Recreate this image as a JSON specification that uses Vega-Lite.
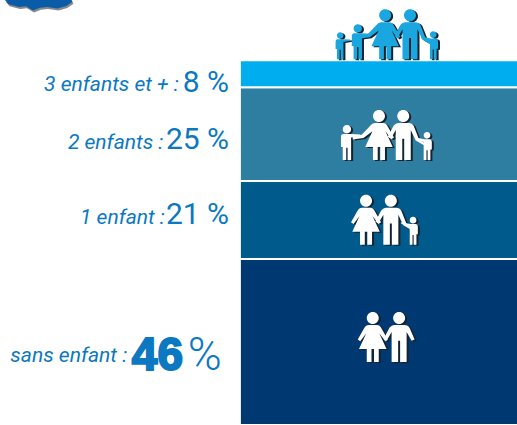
{
"$schema":"https://vega.github.io/schema/vega-lite/v6.json",
"width":517,"height":425,"padding":0,"autosize":{"type":"none"},
"background":"white",
"config":{"view":{"stroke":null},"axis":{"disable":true},"text":{"font":"Roboto"}},
"resolve":{"scale":{"color":"independent","size":"independent","shape":"independent"}},
"datasets":{
"bands":[
{"label":"sans enfant :","share":46,"shareText":"46","drawn":45.6,"rank":1},
{"label":"1 enfant :","share":21,"shareText":"21 %","drawn":21.4,"rank":2},
{"label":"2 enfants :","share":25,"shareText":"25 %","drawn":25.8,"rank":3},
{"label":"3 enfants et + :","share":8,"shareText":"8 %","drawn":7.4,"rank":4}
],
"figures":[
{"family":"3 enfants et +","kind":"petit gauche","along":65.8,"ground":100.5},
{"family":"3 enfants et +","kind":"enfant gauche","along":69.2,"ground":100.5},
{"family":"3 enfants et +","kind":"femme bras","along":74.5,"ground":100.5},
{"family":"3 enfants et +","kind":"homme bras","along":79.3,"ground":100.5},
{"family":"3 enfants et +","kind":"enfant droit","along":83.8,"ground":100.5},
{"family":"2 enfants","kind":"enfant gauche","along":67.1,"ground":72.8},
{"family":"2 enfants","kind":"femme bras","along":73.3,"ground":72.8},
{"family":"2 enfants","kind":"homme bras","along":78,"ground":72.8},
{"family":"2 enfants","kind":"enfant droit","along":82.6,"ground":72.8},
{"family":"1 enfant","kind":"femme","along":70.8,"ground":49.5},
{"family":"1 enfant","kind":"homme bras","along":75.6,"ground":49.5},
{"family":"1 enfant","kind":"enfant droit","along":79.9,"ground":49.5},
{"family":"sans enfant","kind":"femme","along":72.1,"ground":17.3},
{"family":"sans enfant","kind":"homme","along":77.2,"ground":17.3}
]
},
"layer":[
{"data":{"name":"bands"},
 "transform":[{"stack":"drawn","sort":[{"field":"rank","order":"ascending"}],"groupby":[],"as":["y0","y1"]}],
 "mark":{"type":"rect","clip":true,"stroke":"white","strokeWidth":2,"opacity":1},
 "encoding":{
  "x":{"datum":46.4,"type":"quantitative","scale":{"domain":[0,100],"nice":false,"zero":false}},
  "x2":{"datum":101},
  "y":{"field":"y0","type":"quantitative","scale":{"domain":[0,116.76],"nice":false,"zero":false}},
  "y2":{"field":"y1"},
  "color":{"field":"label","type":"nominal","legend":null,"scale":{"domain":["sans enfant :","1 enfant :","2 enfants :","3 enfants et + :"],"range":["#003871","#005A8C","#2E7EA1","#00AEEF"]}}
 }},
{"data":{"values":[{"element":"carte"}]},
 "mark":{"type":"point","filled":true,"opacity":1,"color":"#8a8a8a","size":4900,"xOffset":1,"yOffset":2,
  "shape":"M-.95 0 L-.85 .12 L-.55 .2 L-.35 .18 L-.15 .3 L.05 .22 L.25 .2 L.55 .24 L.8 .17 L.98 .05 L.95 0Z"},
 "encoding":{"x":{"datum":7.4,"type":"quantitative"},"y":{"datum":116.76,"type":"quantitative"}}},
{"data":{"values":[{"element":"carte"}]},
 "mark":{"type":"point","filled":true,"opacity":1,"color":"#0A5CA8","size":4900,
  "shape":"M-.95 0 L-.85 .12 L-.55 .2 L-.35 .18 L-.15 .3 L.05 .22 L.25 .2 L.55 .24 L.8 .17 L.98 .05 L.95 0Z"},
 "encoding":{"x":{"datum":7.4,"type":"quantitative"},"y":{"datum":116.76,"type":"quantitative"}}},
{"data":{"name":"figures"},
 "mark":{"type":"point","filled":true,"opacity":1,"xOffset":2,"yOffset":1,"color":"#15232e"},
 "encoding":{
  "x":{"field":"along","type":"quantitative"},
  "y":{"field":"ground","type":"quantitative"},
  "shape":{"field":"kind","type":"nominal","legend":null,"scale":{"domain":["homme","homme bras","femme","femme bras","enfant gauche","petit gauche","enfant droit"],"range":[
   "M-.24 -1.76A.24 .24 0 1 0 .24 -1.76A.24 .24 0 1 0 -.24 -1.76ZM-.2 -1.48L.2 -1.48Q.36 -1.48 .42 -1.36L.62 -.9L.5 -.85L.3 -1.2L.3 0L.04 0L.04 -.85L-.04 -.85L-.04 0L-.3 0L-.3 -1.2L-.5 -.85L-.62 -.93L-.38 -1.38Q-.3 -1.48 -.2 -1.48Z",
   "M-.24 -1.76A.24 .24 0 1 0 .24 -1.76A.24 .24 0 1 0 -.24 -1.76ZM-.2 -1.48L.2 -1.48Q.36 -1.48 .42 -1.36L.62 -.85L.88 -.66L.84 -.58L.5 -.78L.3 -1.2L.3 0L.04 0L.04 -.85L-.04 -.85L-.04 0L-.3 0L-.3 -1.2L-.5 -.85L-.62 -.93L-.38 -1.38Q-.3 -1.48 -.2 -1.48Z",
   "M-.24 -1.76A.24 .24 0 1 0 .24 -1.76A.24 .24 0 1 0 -.24 -1.76ZM-.16 -1.48L.16 -1.48Q.28 -1.48 .34 -1.36L.6 -.9L.5 -.83L.26 -1.15L.55 -.52L.24 -.52L.24 0L.05 0L.05 -.52L-.05 -.52L-.05 0L-.24 0L-.24 -.52L-.55 -.52L-.26 -1.15L-.5 -.83L-.6 -.9L-.34 -1.36Q-.28 -1.48 -.16 -1.48Z",
   "M-.24 -1.76A.24 .24 0 1 0 .24 -1.76A.24 .24 0 1 0 -.24 -1.76ZM-.16 -1.48L.16 -1.48Q.28 -1.48 .34 -1.36L.6 -.9L.5 -.83L.26 -1.15L.55 -.52L.24 -.52L.24 0L.05 0L.05 -.52L-.05 -.52L-.05 0L-.24 0L-.24 -.52L-.55 -.52L-.26 -1.15L-.62 -.88L-1.05 -.82L-1.05 -.92L-.68 -1.02L-.34 -1.38Q-.28 -1.48 -.16 -1.48Z",
   "M-.24 -1.76A.24 .24 0 1 0 .24 -1.76A.24 .24 0 1 0 -.24 -1.76ZM.75 -1.46L.2 -1.48L-.2 -1.48Q-.34 -1.48 -.34 -1.3L-.34 -.75L-.24 -.75L-.24 0L-.04 0L-.04 -.7L.04 -.7L.04 0L.24 0L.24 -1.28L.75 -1.36Z",
   "M-.24 -1.76A.24 .24 0 1 0 .24 -1.76A.24 .24 0 1 0 -.24 -1.76ZM.75 -1.46L.2 -1.48L-.2 -1.48Q-.34 -1.48 -.34 -1.3L-.34 -.75L-.24 -.75L-.24 0L-.04 0L-.04 -.7L.04 -.7L.04 0L.24 0L.24 -1.28L.75 -1.36Z",
   "M-.24 -1.76A.24 .24 0 1 0 .24 -1.76A.24 .24 0 1 0 -.24 -1.76ZM-.85 -1.62L-.2 -1.48L.2 -1.48Q.34 -1.48 .34 -1.3L.34 -.75L.24 -.75L.24 0L.04 0L.04 -.7L-.04 -.7L-.04 0L-.24 0L-.24 -1.28L-.85 -1.5Z"
  ]}},
  "size":{"field":"kind","type":"ordinal","legend":null,"scale":{"type":"ordinal","domain":["homme","homme bras","femme","femme bras","enfant gauche","petit gauche","enfant droit"],"range":[2500,2500,2500,2500,1225,729,784]}}
 }},
{"data":{"name":"figures"},
 "mark":{"type":"point","filled":true,"opacity":1},
 "encoding":{
  "x":{"field":"along","type":"quantitative"},
  "y":{"field":"ground","type":"quantitative"},
  "shape":{"field":"kind","type":"nominal","legend":null,"scale":{"domain":["homme","homme bras","femme","femme bras","enfant gauche","petit gauche","enfant droit"],"range":[
   "M-.24 -1.76A.24 .24 0 1 0 .24 -1.76A.24 .24 0 1 0 -.24 -1.76ZM-.2 -1.48L.2 -1.48Q.36 -1.48 .42 -1.36L.62 -.9L.5 -.85L.3 -1.2L.3 0L.04 0L.04 -.85L-.04 -.85L-.04 0L-.3 0L-.3 -1.2L-.5 -.85L-.62 -.93L-.38 -1.38Q-.3 -1.48 -.2 -1.48Z",
   "M-.24 -1.76A.24 .24 0 1 0 .24 -1.76A.24 .24 0 1 0 -.24 -1.76ZM-.2 -1.48L.2 -1.48Q.36 -1.48 .42 -1.36L.62 -.85L.88 -.66L.84 -.58L.5 -.78L.3 -1.2L.3 0L.04 0L.04 -.85L-.04 -.85L-.04 0L-.3 0L-.3 -1.2L-.5 -.85L-.62 -.93L-.38 -1.38Q-.3 -1.48 -.2 -1.48Z",
   "M-.24 -1.76A.24 .24 0 1 0 .24 -1.76A.24 .24 0 1 0 -.24 -1.76ZM-.16 -1.48L.16 -1.48Q.28 -1.48 .34 -1.36L.6 -.9L.5 -.83L.26 -1.15L.55 -.52L.24 -.52L.24 0L.05 0L.05 -.52L-.05 -.52L-.05 0L-.24 0L-.24 -.52L-.55 -.52L-.26 -1.15L-.5 -.83L-.6 -.9L-.34 -1.36Q-.28 -1.48 -.16 -1.48Z",
   "M-.24 -1.76A.24 .24 0 1 0 .24 -1.76A.24 .24 0 1 0 -.24 -1.76ZM-.16 -1.48L.16 -1.48Q.28 -1.48 .34 -1.36L.6 -.9L.5 -.83L.26 -1.15L.55 -.52L.24 -.52L.24 0L.05 0L.05 -.52L-.05 -.52L-.05 0L-.24 0L-.24 -.52L-.55 -.52L-.26 -1.15L-.62 -.88L-1.05 -.82L-1.05 -.92L-.68 -1.02L-.34 -1.38Q-.28 -1.48 -.16 -1.48Z",
   "M-.24 -1.76A.24 .24 0 1 0 .24 -1.76A.24 .24 0 1 0 -.24 -1.76ZM.75 -1.46L.2 -1.48L-.2 -1.48Q-.34 -1.48 -.34 -1.3L-.34 -.75L-.24 -.75L-.24 0L-.04 0L-.04 -.7L.04 -.7L.04 0L.24 0L.24 -1.28L.75 -1.36Z",
   "M-.24 -1.76A.24 .24 0 1 0 .24 -1.76A.24 .24 0 1 0 -.24 -1.76ZM.75 -1.46L.2 -1.48L-.2 -1.48Q-.34 -1.48 -.34 -1.3L-.34 -.75L-.24 -.75L-.24 0L-.04 0L-.04 -.7L.04 -.7L.04 0L.24 0L.24 -1.28L.75 -1.36Z",
   "M-.24 -1.76A.24 .24 0 1 0 .24 -1.76A.24 .24 0 1 0 -.24 -1.76ZM-.85 -1.62L-.2 -1.48L.2 -1.48Q.34 -1.48 .34 -1.3L.34 -.75L.24 -.75L.24 0L.04 0L.04 -.7L-.04 -.7L-.04 0L-.24 0L-.24 -1.28L-.85 -1.5Z"
  ]}},
  "size":{"field":"kind","type":"ordinal","legend":null,"scale":{"type":"ordinal","domain":["homme","homme bras","femme","femme bras","enfant gauche","petit gauche","enfant droit"],"range":[2500,2500,2500,2500,1225,729,784]}},
  "color":{"field":"family","type":"nominal","legend":null,"scale":{"domain":["sans enfant","1 enfant","2 enfants","3 enfants et +"],"range":["#FFFFFF","#FFFFFF","#FFFFFF","#1AA7E0"]}}
 }},
{"data":{"name":"bands"},"transform":[{"filter":"datum.share==8"}],
 "mark":{"type":"text","align":"right","baseline":"alphabetic","fontStyle":"italic","fontSize":21,"color":"#0B78C1"},
 "encoding":{"x":{"datum":34.6,"type":"quantitative"},"y":{"datum":91.8,"type":"quantitative"},"text":{"field":"label"}}},
{"data":{"name":"bands"},"transform":[{"filter":"datum.share==25"}],
 "mark":{"type":"text","align":"right","baseline":"alphabetic","fontStyle":"italic","fontSize":21,"color":"#0B78C1"},
 "encoding":{"x":{"datum":31.6,"type":"quantitative"},"y":{"datum":75.8,"type":"quantitative"},"text":{"field":"label"}}},
{"data":{"name":"bands"},"transform":[{"filter":"datum.share==21"}],
 "mark":{"type":"text","align":"right","baseline":"alphabetic","fontStyle":"italic","fontSize":21,"color":"#0B78C1"},
 "encoding":{"x":{"datum":31.9,"type":"quantitative"},"y":{"datum":55.2,"type":"quantitative"},"text":{"field":"label"}}},
{"data":{"name":"bands"},"transform":[{"filter":"datum.share==46"}],
 "mark":{"type":"text","align":"right","baseline":"alphabetic","fontStyle":"italic","fontSize":21,"color":"#0B78C1"},
 "encoding":{"x":{"datum":24.6,"type":"quantitative"},"y":{"datum":17.3,"type":"quantitative"},"text":{"field":"label"}}},
{"data":{"name":"bands"},"transform":[{"filter":"datum.share==8"}],
 "mark":{"type":"text","align":"right","baseline":"alphabetic","fontSize":30,"color":"#0B78C1"},
 "encoding":{"x":{"datum":44.3,"type":"quantitative"},"y":{"datum":91.5,"type":"quantitative"},"text":{"field":"shareText"}}},
{"data":{"name":"bands"},"transform":[{"filter":"datum.share==25"}],
 "mark":{"type":"text","align":"right","baseline":"alphabetic","fontSize":30,"color":"#0B78C1"},
 "encoding":{"x":{"datum":44.3,"type":"quantitative"},"y":{"datum":75.8,"type":"quantitative"},"text":{"field":"shareText"}}},
{"data":{"name":"bands"},"transform":[{"filter":"datum.share==21"}],
 "mark":{"type":"text","align":"right","baseline":"alphabetic","fontSize":30,"color":"#0B78C1"},
 "encoding":{"x":{"datum":44.3,"type":"quantitative"},"y":{"datum":55.2,"type":"quantitative"},"text":{"field":"shareText"}}},
{"data":{"name":"bands"},"transform":[{"filter":"datum.share==46"}],
 "mark":{"type":"text","align":"right","baseline":"alphabetic","font":"Liberation Sans","fontWeight":"bold","fontSize":46,"color":"#0B78C1","stroke":"#0B78C1","strokeWidth":2},
 "encoding":{"x":{"datum":35.4,"type":"quantitative"},"y":{"datum":15.1,"type":"quantitative"},"text":{"field":"shareText"}}},
{"data":{"name":"bands"},"transform":[{"filter":"datum.share==46"}],
 "mark":{"type":"text","align":"right","baseline":"alphabetic","fontWeight":300,"fontSize":46,"color":"#0B78C1"},
 "encoding":{"x":{"datum":42.9,"type":"quantitative"},"y":{"datum":15.1,"type":"quantitative"},"text":{"value":"%"}}}
]
}
